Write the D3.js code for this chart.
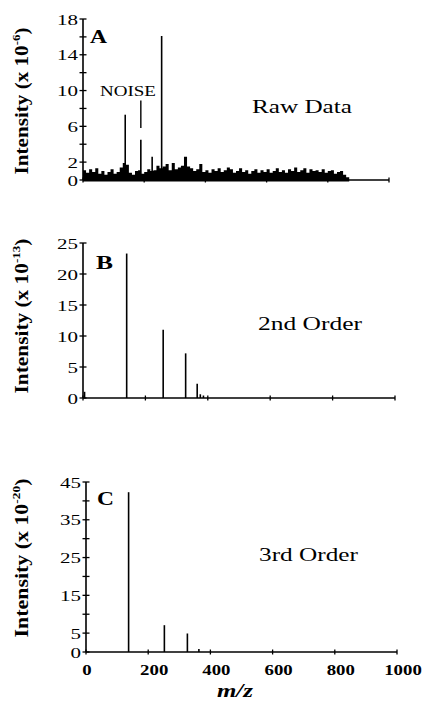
<!DOCTYPE html>
<html>
<head>
<meta charset="utf-8">
<script src="https://cdn.jsdelivr.net/npm/d3@7"></script>
<style>
  body { margin: 0; background: #fff; }
  svg text { font-family: "Liberation Serif", "Times New Roman", "DejaVu Serif", serif; fill: #000; }
</style>
</head>
<body>
<div id="chart"></div>
<script>
// Data
var mzTicks = [0, 200, 400, 600, 800, 1000];
var mzTickLabels = ["0", "200", "400", "600", "800", "1000"];

// Panel A - raw data
var peaksA_mz  = [138, 189, 226, 257];
var peaksA_int = [7.3, 4.5, 2.6, 16.1];
var noiseA_start = 0, noiseA_step = 10;
var noiseA = [1.1, 0.8, 1.2, 0.9, 1.3, 0.7, 1.0, 0.6, 0.9, 1.2,
              0.7, 0.9, 1.4, 1.9, 1.7, 0.8, 0.6, 1.0, 1.1, 0.7,
              0.9, 1.2, 1.0, 1.1, 1.6, 1.3, 1.5, 1.8, 1.1, 1.9,
              1.2, 1.4, 1.6, 2.6, 1.5, 1.3, 1.0, 1.2, 1.8, 0.9,
              1.1, 0.8, 1.2, 1.0, 1.3, 0.9, 1.1, 1.4, 1.2, 0.8,
              1.0, 1.3, 0.9, 1.1, 0.7, 1.0, 1.2, 0.8, 1.1, 0.9,
              1.2, 0.8, 1.0, 1.3, 0.9, 1.1, 0.8, 1.2, 1.0, 1.4,
              0.9, 1.1, 1.3, 0.8, 1.2, 1.0, 1.1, 0.9, 1.2, 0.8,
              1.0, 1.1, 0.7, 0.9, 1.0, 0.6, 0.3, 0];
var yTicksA  = [0, 2, 4, 6, 8, 10, 12, 14, 16, 18];
var yLabelsA = [0, 2, 6, 10, 14, 18];

// Panel B - 2nd order
var peaksB_mz  = [5, 140, 257, 329, 366, 376, 386];
var peaksB_int = [1.0, 23.3, 11.0, 7.2, 2.3, 0.6, 0.4];
var yTicksB  = [0, 5, 10, 15, 20, 25];
var yLabelsB = [0, 5, 10, 15, 20, 25];

// Panel C - 3rd order
var peaksC_mz  = [137, 252, 326, 363];
var peaksC_int = [42.3, 7.1, 4.9, 0.8];
var yTicksC  = [0, 5, 10, 15, 20, 25, 30, 35, 40, 45];
var yLabelsC = [0, 5, 15, 25, 35, 45];

var panelLetters = ["A", "B", "C"];
var panelNames = ["Raw Data", "2nd Order", "3rd Order"];
var exponents = ["-6", "-13", "-20"];

// SVG area
var svgWidth = 424;
var svgHeight = 710;

var svg = d3.select("#chart")
    .append("svg")
    .attr("width", svgWidth)
    .attr("height", svgHeight);

// put text at x,y and squeeze/stretch it horizontally to a measured width
function fitText(x, y, str, size, weight, anchor, width, style) {
    var t = svg.append("text")
        .attr("text-anchor", anchor || "start")
        .attr("font-size", size)
        .attr("font-weight", weight || "normal")
        .attr("font-style", style || "normal")
        .text(str);
    var k = width ? width / t.node().getComputedTextLength() : 1;
    t.attr("transform", `translate(${x}, ${y}) scale(${k}, 1)`);
    return t;
}

function drawPanel(p) {
    var x = d3.scaleLinear().domain([0, 1000]).range(p.xRange);
    var y = d3.scaleLinear().domain(p.yDomain).range(p.yRange);
    var g = svg.append("g");

    // noise band (panel A)
    if (p.noise) {
        var area = d3.area()
            .curve(d3.curveStepAfter)
            .x((d, i) => x(p.noiseStart + i * p.noiseStep))
            .y0(y(0) + 1.5)
            .y1(d => y(d));
        g.append("path")
            .datum(p.noise)
            .attr("d", area)
            .attr("fill", "#000");
    }

    // peaks
    g.selectAll(".peak")
        .data(p.mz.map((m, i) => ({ mz: m, v: p.int[i] })))
        .enter()
        .append("line")
        .attr("x1", d => x(d.mz))
        .attr("x2", d => x(d.mz))
        .attr("y1", y(0))
        .attr("y2", d => y(d.v))
        .attr("stroke", "#000")
        .attr("stroke-width", 1.6);

    // y axis
    g.append("line")
        .attr("x1", x(0)).attr("x2", x(0))
        .attr("y1", y(0)).attr("y2", y(p.yDomain[1]))
        .attr("stroke", "#000").attr("stroke-width", 1.6);
    g.selectAll(".ytick")
        .data(p.yTicks)
        .enter()
        .append("line")
        .attr("x1", x(0) - 3.5).attr("x2", x(0) + 3.5)
        .attr("y1", d => y(d)).attr("y2", d => y(d))
        .attr("stroke", "#000").attr("stroke-width", 1.3);
    p.yLabels.forEach(function(v) {
        var s = String(v);
        fitText(x(0) - 5, y(v) + 5.5, s, 15, "normal", "end", 10.5 * s.length);
    });

    // x axis
    g.append("line")
        .attr("x1", x(0)).attr("x2", x(p.xEnd))
        .attr("y1", y(0)).attr("y2", y(0))
        .attr("stroke", "#000").attr("stroke-width", 1.6);
    g.selectAll(".xtick")
        .data(mzTicks)
        .enter()
        .append("line")
        .attr("x1", d => x(d)).attr("x2", d => x(d))
        .attr("y1", y(0) - 2.5).attr("y2", y(0) + 2.5)
        .attr("stroke", "#000").attr("stroke-width", 1.3);
    if (p.xLabels) {
        mzTicks.forEach(function(v, i) {
            var s = mzTickLabels[i];
            fitText(x(v) + (v > 0 ? 6 : 1), y(0) + 23, s, 15, "bold", "middle", 9.4 * s.length);
        });
    }

    // letter and panel name
    fitText(p.letterPos[0], p.letterPos[1], p.letter, 19, "bold", "start", 17);
    fitText(p.namePos[0], p.namePos[1], p.name, 19, "normal", "start", p.nameWidth);

    // y title, fitted along its length
    var t = svg.append("text")
        .attr("text-anchor", "middle")
        .attr("dy", "0.32em")
        .attr("font-size", 18)
        .attr("font-weight", "bold");
    t.append("tspan").text("Intensity (x 10");
    t.append("tspan").attr("font-size", 11).attr("dy", "-0.7em").text(p.exp);
    t.append("tspan").attr("dy", "0.45em").text(")");
    var k = p.titleLen / t.node().getComputedTextLength();
    t.attr("transform", `translate(${p.titlePos[0]}, ${p.titlePos[1]}) rotate(-90) scale(${k}, 1)`);

    return { x: x, y: y };
}

var a = drawPanel({
    xRange: [83, 389], xEnd: 1000, yDomain: [0, 18], yRange: [180, 19],
    mz: peaksA_mz, int: peaksA_int,
    noise: noiseA, noiseStart: noiseA_start, noiseStep: noiseA_step,
    yTicks: yTicksA, yLabels: yLabelsA,
    letter: panelLetters[0], letterPos: [90, 43],
    name: panelNames[0], namePos: [252, 113], nameWidth: 100,
    exp: exponents[0], titlePos: [22, 101], titleLen: 147
});

// NOISE label and its pointer
fitText(100, 96, "NOISE", 15, "normal", "start", 56);
svg.append("line")
    .attr("x1", a.x(189)).attr("x2", a.x(189))
    .attr("y1", a.y(8.9)).attr("y2", a.y(5.8))
    .attr("stroke", "#000").attr("stroke-width", 1.4);

drawPanel({
    xRange: [83, 395], xEnd: 1000, yDomain: [0, 25], yRange: [398, 243],
    mz: peaksB_mz, int: peaksB_int,
    yTicks: yTicksB, yLabels: yLabelsB,
    letter: panelLetters[1], letterPos: [96, 269],
    name: panelNames[1], namePos: [258, 330], nameWidth: 104,
    exp: exponents[1], titlePos: [22, 316], titleLen: 155
});

drawPanel({
    xRange: [86, 397], xEnd: 1000, yDomain: [0, 45], yRange: [652, 482],
    mz: peaksC_mz, int: peaksC_int,
    yTicks: yTicksC, yLabels: yLabelsC, xLabels: true,
    letter: panelLetters[2], letterPos: [97, 505],
    name: panelNames[2], namePos: [259, 561], nameWidth: 99,
    exp: exponents[2], titlePos: [22, 558], titleLen: 159
});

// x axis title
fitText(235, 697, "m/z", 19, "bold", "middle", 36, "italic");
</script>
</body>
</html>
